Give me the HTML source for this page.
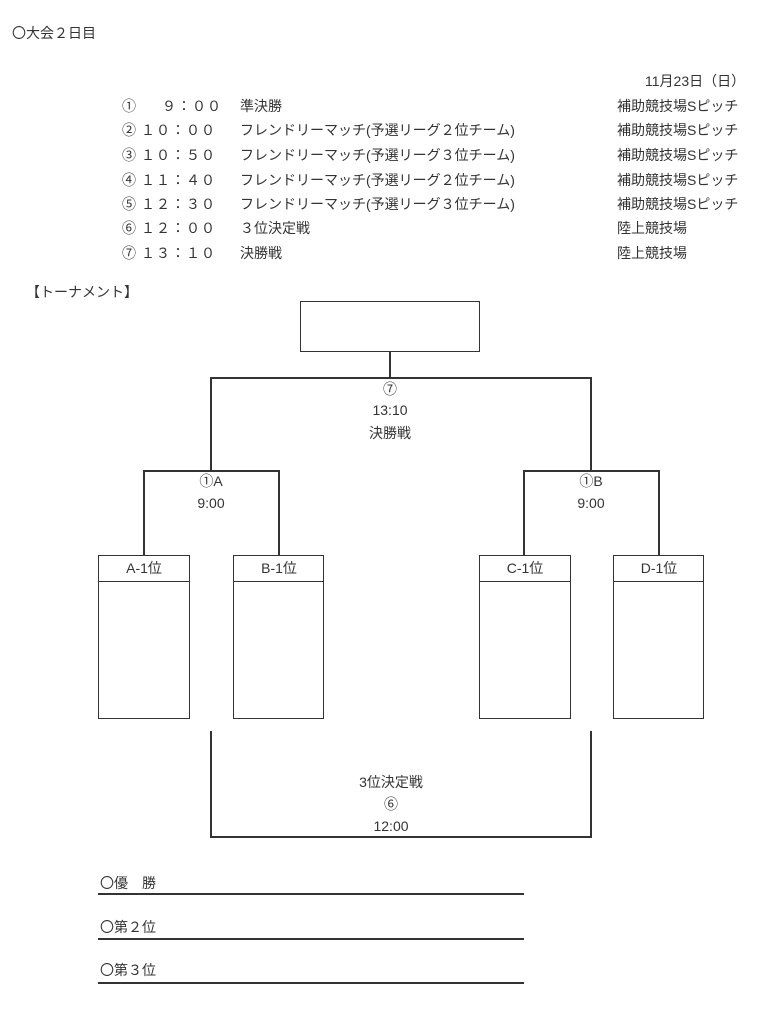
<!DOCTYPE html>
<html><head><meta charset="utf-8"><style>
body{margin:0;width:770px;height:1024px;background:#fff;position:relative;font-family:"Liberation Sans","Noto Sans CJK JP",sans-serif;color:#333;font-size:14px;}
.t{position:absolute;white-space:nowrap;line-height:16px;}
.tm{position:absolute;white-space:nowrap;line-height:16px;letter-spacing:1px;}
.c{position:absolute;text-align:center;line-height:16px;white-space:nowrap;transform:translateX(-50%);}
.l{position:absolute;background:#333;}
.box{position:absolute;border:1.5px solid #333;box-sizing:border-box;}
</style></head><body>
<div class="t" style="left:12px;top:25px">〇大会２日目</div>
<div class="t" style="left:645px;top:73px">11月23日（日）</div>

<div class="t" style="left:122px;top:98px">①</div><div class="tm" style="left:162px;top:98px">９：００</div><div class="t" style="left:240px;top:98px">準決勝</div><div class="t" style="left:617px;top:98px">補助競技場Sピッチ</div>
<div class="t" style="left:122px;top:122px">②</div><div class="tm" style="left:141px;top:122px">１０：００</div><div class="t" style="left:240px;top:122px">フレンドリーマッチ(予選リーグ２位チーム)</div><div class="t" style="left:617px;top:122px">補助競技場Sピッチ</div>
<div class="t" style="left:122px;top:147px">③</div><div class="tm" style="left:141px;top:147px">１０：５０</div><div class="t" style="left:240px;top:147px">フレンドリーマッチ(予選リーグ３位チーム)</div><div class="t" style="left:617px;top:147px">補助競技場Sピッチ</div>
<div class="t" style="left:122px;top:172px">④</div><div class="tm" style="left:141px;top:172px">１１：４０</div><div class="t" style="left:240px;top:172px">フレンドリーマッチ(予選リーグ２位チーム)</div><div class="t" style="left:617px;top:172px">補助競技場Sピッチ</div>
<div class="t" style="left:122px;top:196px">⑤</div><div class="tm" style="left:141px;top:196px">１２：３０</div><div class="t" style="left:240px;top:196px">フレンドリーマッチ(予選リーグ３位チーム)</div><div class="t" style="left:617px;top:196px">補助競技場Sピッチ</div>
<div class="t" style="left:122px;top:220px">⑥</div><div class="tm" style="left:141px;top:220px">１２：００</div><div class="t" style="left:240px;top:220px">３位決定戦</div><div class="t" style="left:617px;top:220px">陸上競技場</div>
<div class="t" style="left:122px;top:245px">⑦</div><div class="tm" style="left:141px;top:245px">１３：１０</div><div class="t" style="left:240px;top:245px">決勝戦</div><div class="t" style="left:617px;top:245px">陸上競技場</div>

<div class="t" style="left:26px;top:284px">【トーナメント】</div>

<div class="box" style="left:300px;top:301px;width:180px;height:51px"></div>
<div class="l" style="left:389px;top:351px;width:2px;height:28px"></div>
<div class="l" style="left:210px;top:377px;width:382px;height:2px"></div>
<div class="l" style="left:210px;top:377px;width:2px;height:95px"></div>
<div class="l" style="left:590px;top:377px;width:2px;height:95px"></div>
<div class="c" style="left:390px;top:381px">⑦</div>
<div class="c" style="left:390px;top:402px">13:10</div>
<div class="c" style="left:390px;top:425px">決勝戦</div>

<div class="l" style="left:143px;top:470px;width:137px;height:2px"></div>
<div class="l" style="left:143px;top:470px;width:2px;height:86px"></div>
<div class="l" style="left:278px;top:470px;width:2px;height:86px"></div>
<div class="c" style="left:211px;top:473px">①A</div>
<div class="c" style="left:211px;top:495px">9:00</div>

<div class="l" style="left:523px;top:470px;width:137px;height:2px"></div>
<div class="l" style="left:523px;top:470px;width:2px;height:86px"></div>
<div class="l" style="left:658px;top:470px;width:2px;height:86px"></div>
<div class="c" style="left:591px;top:473px">①B</div>
<div class="c" style="left:591px;top:495px">9:00</div>

<div class="box" style="left:98px;top:555px;width:92px;height:164px"></div><div class="l" style="left:98px;top:581px;width:92px;height:1px"></div><div class="c" style="left:144px;top:560px">A-1位</div>
<div class="box" style="left:233px;top:555px;width:91px;height:164px"></div><div class="l" style="left:233px;top:581px;width:91px;height:1px"></div><div class="c" style="left:279px;top:560px">B-1位</div>
<div class="box" style="left:479px;top:555px;width:92px;height:164px"></div><div class="l" style="left:479px;top:581px;width:92px;height:1px"></div><div class="c" style="left:525px;top:560px">C-1位</div>
<div class="box" style="left:613px;top:555px;width:91px;height:164px"></div><div class="l" style="left:613px;top:581px;width:91px;height:1px"></div><div class="c" style="left:659px;top:560px">D-1位</div>

<div class="l" style="left:210px;top:731px;width:2px;height:107px"></div>
<div class="l" style="left:590px;top:731px;width:2px;height:107px"></div>
<div class="l" style="left:210px;top:836px;width:382px;height:2px"></div>
<div class="c" style="left:391px;top:774px">3位決定戦</div>
<div class="c" style="left:391px;top:796px">⑥</div>
<div class="c" style="left:391px;top:818px">12:00</div>

<div class="t" style="left:100px;top:875px">〇優　勝</div>
<div class="l" style="left:98px;top:893px;width:426px;height:2px"></div>
<div class="t" style="left:100px;top:919px">〇第２位</div>
<div class="l" style="left:98px;top:938px;width:426px;height:2px"></div>
<div class="t" style="left:100px;top:962px">〇第３位</div>
<div class="l" style="left:98px;top:982px;width:426px;height:2px"></div>
</body></html>
